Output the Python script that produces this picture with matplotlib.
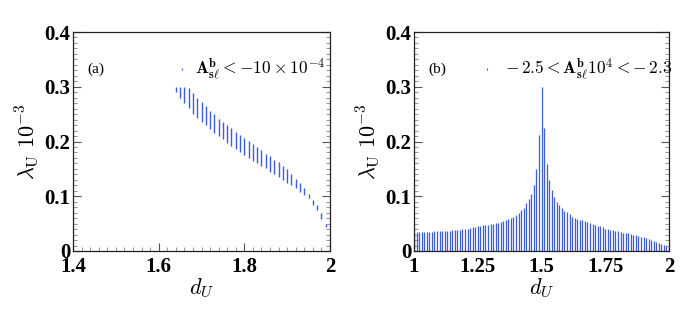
import numpy as np
import matplotlib
matplotlib.use("Agg")
import matplotlib.pyplot as plt
from matplotlib.ticker import MultipleLocator

# ---------------- data ----------------
# panel (a): allowed lambda_U range (x1e-3) per d_U
d_a = [1.64, 1.65, 1.66, 1.67, 1.68, 1.69, 1.70, 1.71, 1.72, 1.73, 1.74, 1.75,
       1.76, 1.77, 1.78, 1.79, 1.80, 1.81, 1.82, 1.83, 1.84, 1.85, 1.86, 1.87,
       1.88, 1.89, 1.90, 1.91, 1.92, 1.93, 1.94, 1.95, 1.96, 1.97, 1.98, 1.99]
lam_a_max = [0.300, 0.300, 0.300, 0.297, 0.288, 0.279, 0.272, 0.264, 0.256, 0.250,
             0.241, 0.236, 0.230, 0.224, 0.218, 0.212, 0.206, 0.201, 0.195, 0.190,
             0.184, 0.178, 0.173, 0.167, 0.163, 0.155, 0.150, 0.141, 0.132, 0.124,
             0.115, 0.104, 0.094, 0.084, 0.069, 0.049]
lam_a_min = [0.290, 0.279, 0.270, 0.261, 0.251, 0.243, 0.236, 0.230, 0.223, 0.216,
             0.210, 0.204, 0.198, 0.192, 0.186, 0.181, 0.175, 0.170, 0.165, 0.160,
             0.155, 0.151, 0.145, 0.141, 0.136, 0.130, 0.125, 0.121, 0.115, 0.108,
             0.102, 0.096, 0.084, 0.074, 0.058, 0.043]

# panel (b): allowed lambda_U range (from 0) per d_U
d_b = [round(1.00 + 0.01 * i, 2) for i in range(100)]
lam_b_max = [
    0.034, 0.034, 0.034, 0.034, 0.034, 0.035, 0.035, 0.035, 0.036, 0.036,   # 1.00-1.09
    0.036, 0.036, 0.036, 0.036, 0.037, 0.038, 0.038, 0.038, 0.039, 0.040,   # 1.10-1.19
    0.040, 0.041, 0.042, 0.043, 0.044, 0.045, 0.046, 0.047, 0.047, 0.048,   # 1.20-1.29
    0.049, 0.049, 0.051, 0.052, 0.053, 0.055, 0.057, 0.058, 0.060, 0.063,   # 1.30-1.39
    0.066, 0.070, 0.074, 0.079, 0.087, 0.095, 0.105, 0.121, 0.150, 0.212,   # 1.40-1.49
    0.300, 0.225, 0.159, 0.130, 0.111, 0.099, 0.090, 0.084, 0.079, 0.073,   # 1.50-1.59
    0.071, 0.067, 0.063, 0.061, 0.059, 0.057, 0.056, 0.054, 0.053, 0.051,   # 1.60-1.69
    0.050, 0.048, 0.046, 0.045, 0.043, 0.041, 0.040, 0.039, 0.038, 0.037,   # 1.70-1.79
    0.036, 0.034, 0.033, 0.032, 0.032, 0.031, 0.030, 0.029, 0.028, 0.026,   # 1.80-1.89
    0.025, 0.023, 0.022, 0.020, 0.019, 0.017, 0.015, 0.013, 0.011, 0.009,   # 1.90-1.99
]
lam_b_min = [0.0] * len(d_b)

xticks_a = [1.4, 1.6, 1.8, 2.0]
xticklabels_a = ["1.4", "1.6", "1.8", "2"]
xticks_b = [1.0, 1.25, 1.5, 1.75, 2.0]
xticklabels_b = ["1", "1.25", "1.5", "1.75", "2"]
yticks = [0.0, 0.1, 0.2, 0.3, 0.4]
yticklabels = ["0", "0.1", "0.2", "0.3", "0.4"]

# ---------------- style ----------------
plt.rcParams['mathtext.fontset'] = 'cm'
BLUE = '#3a5af2'
TICKFONT = dict(family='Liberation Serif', weight='bold', size=15)

fig = plt.figure(figsize=(6.92, 3.15), dpi=100)
W, H = 692.0, 315.0
ax_a = fig.add_axes([73 / W, (H - 251) / H, 257 / W, 219 / H])
ax_b = fig.add_axes([414 / W, (H - 251) / H, 255 / W, 219 / H])


def style(ax, xlim, xticks, xlabels, xminor):
    ax.set_xlim(*xlim)
    ax.set_ylim(0, 0.4)
    ax.set_xticks(xticks)
    ax.set_xticklabels(xlabels, fontdict=TICKFONT)
    ax.set_yticks(yticks)
    ax.set_yticklabels(yticklabels, fontdict=TICKFONT)
    ax.xaxis.set_minor_locator(MultipleLocator(xminor))
    ax.yaxis.set_minor_locator(MultipleLocator(0.01))
    ax.tick_params(which='both', direction='in', top=False, right=True,
                   color='#555555', width=0.8)
    ax.tick_params(which='major', length=6)
    ax.tick_params(which='minor', length=3, color='#999999')
    ax.tick_params(axis='y', which='major', pad=2)
    ax.tick_params(axis='x', which='major', pad=4)
    for s in ax.spines.values():
        s.set_linewidth(0.9)
        s.set_color('#222222')
    ax.set_xlabel(r"$d_U$", fontsize=16, labelpad=0)
    ax.set_ylabel(r"$\lambda_{\rm U}\ 10^{-3}$", fontsize=16, labelpad=2)


# panel (a)
ax_a.vlines(d_a, lam_a_min, lam_a_max, colors=BLUE, linewidth=1.0)
style(ax_a, (1.4, 2.0), xticks_a, xticklabels_a, 0.02)
ax_a.text(0.055, 0.83, "(a)", transform=ax_a.transAxes, fontsize=11,
          family='Liberation Serif', va='center', ha='left')
ax_a.plot([0.425], [0.83], transform=ax_a.transAxes, marker='|', markersize=2,
          color=BLUE, mew=0.8, linestyle='none')
ax_a.text(0.475, 0.83, r"$\mathbf{A^{b}_{s\ell} < -10 \times 10^{-4}}$",
          transform=ax_a.transAxes, fontsize=12.5, va='center', ha='left')

# panel (b)
ax_b.vlines(d_b, lam_b_min, lam_b_max, colors=BLUE, linewidth=0.9)
style(ax_b, (1.0, 2.0), xticks_b, xticklabels_b, 0.05)
ax_b.text(0.055, 0.83, "(b)", transform=ax_b.transAxes, fontsize=11,
          family='Liberation Serif', va='center', ha='left')
ax_b.plot([0.285], [0.83], transform=ax_b.transAxes, marker='|', markersize=1.5,
          color=BLUE, mew=0.8, linestyle='none')
ax_b.text(0.355, 0.83, r"$\mathbf{-\,2.5 < A^{b}_{s\ell}10^{4} < -\,2.3}$",
          transform=ax_b.transAxes, fontsize=12.5, va='center', ha='left')

fig.savefig("out.png", dpi=100)
